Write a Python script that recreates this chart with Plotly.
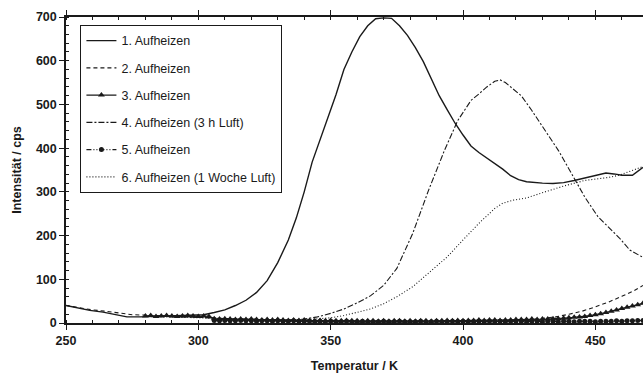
import plotly.graph_objects as go

# 1. Aufheizen (solid)
t1 = [250, 255, 259, 264, 268, 273, 278, 283, 288, 293, 298, 302, 306, 310, 314, 318, 322, 326,
      330, 334, 337, 340, 343, 346, 349, 352, 355, 358, 361, 364, 367, 370, 373, 376, 379, 382,
      385, 388, 391, 394, 397, 400, 403, 406, 409, 412, 415, 418, 421, 424, 427, 430, 434, 438,
      442, 446, 450, 454, 457, 460, 464, 468]
i1 = [40, 34, 29, 25, 20, 14, 14, 15, 16, 16, 17, 19, 24, 30, 40, 52, 70, 97,
      138, 190, 240, 300, 368, 420, 475, 522, 580, 620, 655, 680, 696, 698, 697, 680, 658, 630,
      598, 558, 520, 488, 457, 430, 405, 390, 378, 366, 352, 337, 328, 323, 321, 320, 319, 321,
      326, 332, 338, 343, 341, 338, 338, 356]

# 2. Aufheizen (dashed)
t2 = [250, 255, 260, 265, 270, 275, 280, 285, 290, 295, 300, 305, 310, 320, 330, 340, 350, 360,
      370, 380, 390, 400, 410, 420, 425, 430, 435, 440, 445, 450, 455, 460, 464, 468]
i2 = [40, 35, 30, 27, 23, 19, 18, 17, 16, 15, 14, 12, 10, 8, 7, 6, 5, 5,
      4, 4, 4, 4, 4, 5, 7, 10, 14, 20, 27, 37, 48, 61, 72, 86]

# 3. Aufheizen (solid with markers)
t3 = list(range(280, 470, 2))
i3 = [16, 17, 15, 16, 17, 16, 15, 16, 17, 16, 15, 16, 15,
      10, 9, 10, 9, 8, 9, 8, 9, 8, 7, 8, 7, 8, 7, 6, 7, 6, 7,
      6, 5, 6, 5, 6, 5, 5, 6, 5, 5, 4, 5, 5, 4, 5, 4, 5, 5, 4, 5,
      4, 5, 5, 4, 5, 5, 6, 5, 6, 5, 6, 6, 7, 6, 7, 7, 6, 7, 7, 8,
      8, 8, 9, 8, 9, 9, 10, 10, 11, 12, 13, 14, 15, 17, 19, 21, 24, 27, 30, 33, 36, 39, 42, 45]

# 4. Aufheizen (3 h Luft) (dash-dot)
t4 = [280, 290, 300, 310, 320, 330, 336, 340, 345, 350, 355, 360, 365, 370, 375, 381, 387, 393,
      398, 403, 406, 409, 412, 414, 416, 419, 422, 426, 431, 436, 441, 446, 451, 455, 459, 463, 468]
i4 = [16, 15, 13, 10, 8, 7, 7, 9, 14, 22, 32, 46, 62, 86, 125, 205, 304, 395,
      463, 509, 524, 540, 553, 556, 550, 535, 520, 486, 440, 395, 342, 288, 243, 218, 195, 167, 150]

# 5. Aufheizen (dash-dot with markers)
t5 = list(range(306, 470, 2))
i5 = [6, 5, 6, 5, 5, 6, 5, 5, 4, 5, 5, 4, 5, 4, 4, 5, 4, 4,
      4, 3, 4, 3, 4, 3, 3, 4, 3, 3, 4, 3, 3, 3, 4, 3, 3, 4, 3, 3,
      3, 4, 3, 3, 4, 3, 3, 4, 3, 4, 3, 3, 4, 3, 4, 3, 4, 3, 4, 4,
      4, 3, 4, 4, 3, 4, 4, 3, 4, 4, 3, 4, 4, 4, 3, 4, 4, 4, 5, 4, 5, 5, 6, 6]

# 6. Aufheizen (1 Woche Luft) (dotted)
t6 = [280, 290, 300, 310, 320, 330, 340, 345, 350, 355, 360, 365, 370, 375, 381, 387, 394, 400,
      406, 412, 415, 419, 424, 431, 439, 446, 451, 455, 459, 462, 465, 468]
i6 = [15, 14, 12, 9, 7, 6, 7, 9, 12, 17, 24, 32, 44, 60, 83, 115, 151, 190,
      228, 262, 274, 281, 286, 300, 315, 326, 330, 333, 338, 345, 352, 358]

ink = '#1a1a1a'

fig = go.Figure()
fig.add_trace(go.Scatter(x=t1, y=i1, name='1. Aufheizen', mode='lines',
                         line=dict(color=ink, width=1.4), legendgroup='g1'))
fig.add_trace(go.Scatter(x=t2, y=i2, name='2. Aufheizen', mode='lines',
                         line=dict(color=ink, width=1.1, dash='4px,3px'), legendgroup='g2'))
fig.add_trace(go.Scatter(x=t3, y=i3, name='3. Aufheizen', mode='lines+markers',
                         line=dict(color=ink, width=1.2),
                         marker=dict(symbol='triangle-up', size=6, color=ink), legendgroup='g3'))
fig.add_trace(go.Scatter(x=t4, y=i4, name='4. Aufheizen (3 h Luft)', mode='lines',
                         line=dict(color=ink, width=1.1, dash='6px,2px,2px,2px'), legendgroup='g4'))
fig.add_trace(go.Scatter(x=t5, y=i5, name='5. Aufheizen', mode='lines+markers',
                         line=dict(color=ink, width=1.1, dash='5px,2px,1px,2px,1px,2px'),
                         marker=dict(symbol='circle', size=5, color=ink), legendgroup='g5'))
fig.add_trace(go.Scatter(x=t6, y=i6, name='6. Aufheizen (1 Woche Luft)', mode='lines',
                         line=dict(color=ink, width=1.1, dash='1px,2px'), legendgroup='g6'))

axis_font = dict(family='Arial, Liberation Sans, sans-serif', size=12.5, color=ink, weight='bold')

fig.update_layout(
    width=643, height=378,
    margin=dict(l=66, r=0, t=17, b=55),
    paper_bgcolor='white', plot_bgcolor='white',
    font=dict(family='Arial, Liberation Sans, sans-serif', size=12.5, color=ink),
    showlegend=True,
    legend=dict(x=0.025, y=0.974, xanchor='left', yanchor='top',
                bordercolor=ink, borderwidth=1, bgcolor='white',
                font=dict(size=12.5), itemwidth=30, tracegroupgap=8,
                traceorder='grouped'),
    xaxis=dict(range=[250, 468], tickvals=[250, 300, 350, 400, 450], automargin=False,
               showgrid=False, zeroline=False, showline=True, linecolor=ink, linewidth=1.5,
               mirror='ticks', ticks='outside', ticklen=5, tickwidth=1.2, tickcolor=ink,
               tickfont=axis_font,
               minor=dict(dtick=10, ticks='inside', ticklen=3, tickwidth=1, tickcolor=ink),
               title=dict(text='Temperatur / K', font=axis_font, standoff=14)),
    yaxis=dict(range=[0, 700], dtick=100, automargin=False,
               showgrid=False, zeroline=False, showline=True, linecolor=ink, linewidth=1.5,
               ticks='outside', ticklen=5, tickwidth=1.2, tickcolor=ink,
               tickfont=axis_font,
               minor=dict(dtick=20, ticks='inside', ticklen=3, tickwidth=1, tickcolor=ink),
               title=dict(text='Intensität / cps', font=axis_font, standoff=12)),
)

# drop the default page margin so the figure sits at the window corner
fig.write_html('out.html', config={'displayModeBar': False},
               post_script="document.body.style.margin='0';document.body.style.overflow='hidden';")
